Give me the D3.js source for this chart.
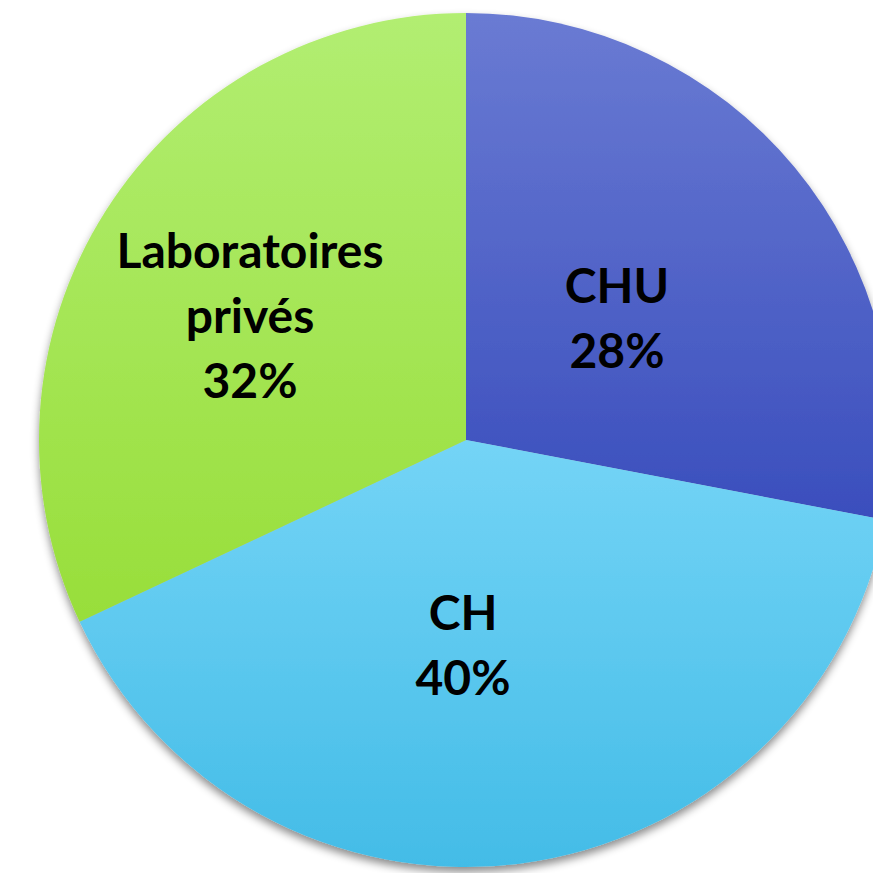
<!DOCTYPE html>
<html>
<head>
<meta charset="utf-8">
<script src="https://cdn.jsdelivr.net/npm/d3@7"></script>
<style>
  html, body { margin: 0; padding: 0; background: #fff; }
  svg { display: block; }
</style>
</head>
<body>
<div id="chart"></div>
<script>
const categories = ["CHU", "CH", "Laboratoires privés"];
const values = [28, 40, 32];
const labelLines = [["CHU", "28%"], ["CH", "40%"], ["Laboratoires", "privés", "32%"]];
const colorsTop = ["#6a7bd3", "#74d4f6", "#b2ee72"];
const colorsBottom = ["#3a4ebd", "#43bce7", "#98de3a"];

const width = 873, height = 873;
const cx = 466, cy = 440, radius = 427;

const svg = d3.select("#chart")
    .append("svg")
    .attr("width", width)
    .attr("height", height);

const defs = svg.append("defs");

// soft shadow under the pie
const shadow = defs.append("filter")
    .attr("id", "shadow")
    .attr("x", "-10%").attr("y", "-10%")
    .attr("width", "120%").attr("height", "125%");
shadow.append("feDropShadow")
    .attr("dx", 0).attr("dy", 5)
    .attr("stdDeviation", 4)
    .attr("flood-color", "#000")
    .attr("flood-opacity", 0.45);

// vertical gradient per slice
categories.forEach((c, i) => {
    const g = defs.append("linearGradient")
        .attr("id", "grad" + i)
        .attr("x1", 0).attr("y1", 0)
        .attr("x2", 0).attr("y2", 1);
    g.append("stop").attr("offset", "0%").attr("stop-color", colorsTop[i]);
    g.append("stop").attr("offset", "100%").attr("stop-color", colorsBottom[i]);
});

const pieData = d3.pie()
    .value(d => d)
    .sort(null)(values);

const arc = d3.arc()
    .innerRadius(0)
    .outerRadius(radius);

const pieGroup = svg.append("g")
    .attr("transform", `translate(${cx}, ${cy})`);

pieGroup.append("g")
    .attr("filter", "url(#shadow)")
    .selectAll(".slice")
    .data(pieData)
    .enter()
    .append("path")
    .attr("class", "slice")
    .attr("d", arc)
    .attr("fill", (d, i) => `url(#grad${i})`);

// label positions (relative to centre)
const labelPos = [[151, -137], [-3, 190], [-216, -172]];
const lineHeight = 65;

const labels = pieGroup.selectAll(".label")
    .data(pieData)
    .enter()
    .append("text")
    .attr("class", "label")
    .attr("text-anchor", "middle")
    .style("font-family", "Lato, 'Open Sans', sans-serif")
    .style("font-weight", "bold")
    .style("font-size", "48px")
    .attr("fill", "#000");

labels.each(function(d, i) {
    const t = d3.select(this);
    labelLines[i].forEach((line, j) => {
        t.append("tspan")
            .attr("x", labelPos[i][0])
            .attr("y", labelPos[i][1] + j * lineHeight)
            .text(line);
    });
});
</script>
</body>
</html>
